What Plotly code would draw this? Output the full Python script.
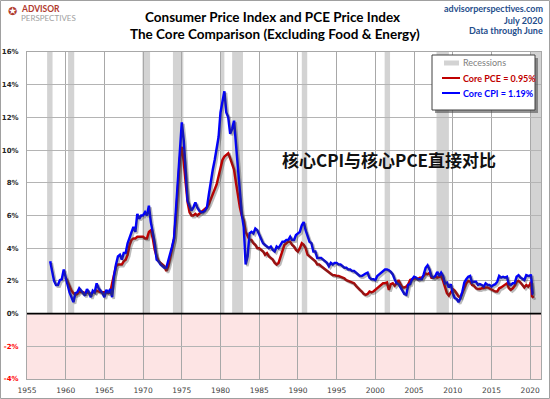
import plotly.graph_objects as go

# ---------------- data ----------------
# Core CPI YoY %, quarterly (Jan, Apr, Jul, Oct) from 1958 through 2019
cpi_start = 1958
cpi_q = [
    3.2, 2.5, 2.0, 1.75,   # 1958
    1.75, 2.05, 2.1, 2.7,  # 1959
    2.3, 1.75, 1.3, 1.0,   # 1960
    0.7, 1.25, 1.3, 1.55,  # 1961
    1.4, 1.3, 1.1, 1.5,    # 1962
    1.3, 1.0, 1.4, 1.3,    # 1963
    1.85, 1.55, 1.4, 1.25, # 1964
    1.0, 1.45, 1.25, 1.5,  # 1965
    1.0, 2.3, 3.0, 3.5,    # 1966
    3.6, 3.3, 3.7, 3.7,    # 1967
    4.3, 4.6, 5.0, 5.3,    # 1968
    5.0, 6.1, 5.8, 6.0,    # 1969
    6.0, 6.2, 6.0, 6.6,    # 1970
    5.6, 4.9, 4.3, 3.3,    # 1971
    3.2, 3.0, 2.9, 2.8,    # 1972
    2.8, 3.2, 3.7, 4.1,    # 1973
    4.6, 6.5, 8.5, 10.3,   # 1974
    11.7, 10.6, 8.5, 6.9,  # 1975
    6.6, 6.3, 6.5, 6.8,    # 1976
    6.5, 6.3, 6.2, 6.2,    # 1977
    6.3, 6.5, 7.3, 8.2,    # 1978
    8.8, 9.4, 10.1, 10.8,  # 1979
    12.3, 13.1, 13.6, 12.3,# 1980
    12.0, 11.0, 11.3, 11.8,# 1981
    10.5, 9.0, 7.5, 6.1,   # 1982
    5.3, 3.0, 3.5, 4.9,    # 1983
    5.0, 4.9, 5.2, 5.1,    # 1984
    4.8, 4.5, 4.3, 4.2,    # 1985
    4.1, 4.0, 4.1, 3.9,    # 1986
    3.8, 4.1, 4.0, 4.2,    # 1987
    4.4, 4.4, 4.5, 4.5,    # 1988
    4.7, 4.5, 4.5, 4.8,    # 1989
    4.9, 5.0, 5.4, 5.6,    # 1990
    5.1, 4.7, 4.4, 4.3,    # 1991
    3.8, 3.8, 3.4, 3.4,    # 1992
    3.4, 3.3, 3.2, 3.1,    # 1993
    2.9, 3.1, 3.0, 3.1,    # 1994
    3.1, 3.0, 3.0, 2.9,    # 1995
    2.8, 2.8, 2.7, 2.7,    # 1996
    2.6, 2.6, 2.5, 2.4,    # 1997
    2.3, 2.3, 2.4, 2.45,   # 1998
    2.5, 2.2, 2.1, 2.1,    # 1999
    2.05, 2.3, 2.4, 2.5,   # 2000
    2.6, 2.7, 2.7, 2.65,   # 2001
    2.55, 2.4, 2.1, 1.85,  # 2002
    1.8, 1.55, 1.4, 1.2,   # 2003
    1.15, 1.75, 1.8, 2.1,  # 2004
    2.25, 2.2, 2.1, 2.1,   # 2005
    2.1, 2.4, 2.8, 2.95,   # 2006
    2.7, 2.3, 2.2, 2.3,    # 2007
    2.55, 2.3, 2.5, 2.3,   # 2008
    1.85, 1.9, 1.6, 1.8,   # 2009
    1.25, 0.95, 0.9, 0.7,  # 2010
    0.95, 1.35, 1.9, 2.1,  # 2011
    2.25, 2.3, 1.9, 1.95,  # 2012
    1.95, 1.75, 1.8, 1.75, # 2013
    1.65, 1.85, 1.75, 1.75,# 2014
    1.65, 1.75, 1.8, 1.95, # 2015
    2.3, 2.2, 2.25, 2.2,   # 2016
    2.25, 1.8, 1.75, 1.85, # 2017
    1.85, 2.25, 2.35, 2.2, # 2018
    2.15, 2.05, 2.35, 2.3, # 2019
]
# Core CPI YoY %, monthly Jan-Jun 2020
cpi_2020 = [2.3, 2.4, 2.1, 1.4, 1.2, 1.19]

# Core PCE YoY %, quarterly from 1960 through 2019
pce_start = 1960
pce_q = [
    2.2, 1.9, 1.6, 1.4,    # 1960
    1.25, 1.15, 1.2, 1.35, # 1961
    1.3, 1.3, 1.25, 1.3,   # 1962
    1.25, 1.2, 1.3, 1.3,   # 1963
    1.4, 1.35, 1.3, 1.3,   # 1964
    1.3, 1.3, 1.25, 1.3,   # 1965
    1.85, 2.4, 2.9, 3.0,   # 1966
    3.0, 3.0, 3.2, 3.3,    # 1967
    3.6, 4.2, 4.5, 4.6,    # 1968
    4.6, 4.7, 4.7, 4.7,    # 1969
    4.7, 4.6, 4.6, 5.0,    # 1970
    5.1, 4.6, 3.9, 3.5,    # 1971
    3.2, 3.1, 3.0, 2.9,    # 1972
    2.6, 2.9, 3.4, 3.9,    # 1973
    4.6, 6.0, 8.0, 9.5,    # 1974
    10.2, 9.3, 8.0, 6.8,   # 1975
    6.2, 6.0, 6.0, 6.1,    # 1976
    6.0, 6.1, 6.2, 6.3,    # 1977
    6.4, 6.5, 6.7, 7.0,    # 1978
    7.2, 7.5, 7.9, 8.4,    # 1979
    9.0, 9.4, 9.6, 9.7,    # 1980
    9.8, 9.5, 9.2, 8.8,    # 1981
    8.0, 7.2, 6.5, 6.0,    # 1982
    5.7, 5.0, 4.7, 4.5,    # 1983
    4.5, 4.3, 4.2, 4.0,    # 1984
    4.0, 3.9, 3.8, 3.6,    # 1985
    3.7, 3.5, 3.4, 3.3,    # 1986
    3.1, 3.0, 3.1, 3.5,    # 1987
    3.8, 4.2, 4.3, 4.4,    # 1988
    4.4, 4.2, 4.1, 3.9,    # 1989
    3.8, 4.0, 4.3, 4.2,    # 1990
    4.0, 3.6, 3.5, 3.4,    # 1991
    3.3, 3.2, 3.0, 3.0,    # 1992
    2.9, 2.8, 2.7, 2.6,    # 1993
    2.5, 2.4, 2.35, 2.35,  # 1994
    2.3, 2.3, 2.25, 2.2,   # 1995
    2.15, 2.05, 2.0, 1.95, # 1996
    1.9, 1.85, 1.7, 1.55,  # 1997
    1.45, 1.35, 1.2, 1.15, # 1998
    1.2, 1.35, 1.3, 1.35,  # 1999
    1.45, 1.6, 1.65, 1.75, # 2000
    1.85, 1.85, 1.9, 1.45, # 2001
    1.8, 1.85, 1.7, 1.85,  # 2002
    2.05, 1.8, 1.6, 1.6,   # 2003
    1.65, 1.8, 2.05, 2.1,  # 2004
    2.15, 2.15, 2.1, 2.2,  # 2005
    2.2, 2.3, 2.45, 2.4,   # 2006
    2.5, 2.2, 2.2, 2.25,   # 2007
    2.2, 2.25, 2.3, 2.0,   # 2008
    1.6, 1.25, 1.1, 1.35,  # 2009
    1.5, 1.4, 1.2, 1.05,   # 2010
    1.0, 1.3, 1.6, 1.85,   # 2011
    2.0, 1.95, 1.75, 1.7,  # 2012
    1.55, 1.5, 1.5, 1.55,  # 2013
    1.55, 1.6, 1.6, 1.55,  # 2014
    1.45, 1.4, 1.35, 1.35, # 2015
    1.55, 1.6, 1.7, 1.8,   # 2016
    1.85, 1.55, 1.45, 1.55,# 2017
    1.7, 1.95, 2.0, 1.9,   # 2018
    1.75, 1.6, 1.75, 1.65, # 2019
]
pce_2020 = [1.8, 1.95, 1.7, 1.0, 1.05, 0.95]

# NBER recessions (decimal years)
rec_start = [1957.6, 1960.3, 1969.9, 1973.85, 1980.0, 1981.5, 1990.5, 2001.2, 2007.9, 2020.1]
rec_end   = [1958.3, 1961.1, 1970.9, 1975.2, 1980.5, 1982.9, 1991.2, 2001.9, 2009.5, 2021.4]

y_ticks = [-4, -2, 0, 2, 4, 6, 8, 10, 12, 14, 16]
x_ticks = list(range(1955, 2021, 5))

legend_labels = ["Recessions", "Core PCE = 0.95%", "Core CPI = 1.19%"]

# ---------------- build x positions ----------------
def build_x(start, nq):
    xs = [start + i / 4 for i in range(nq)]
    xs += [2020 + m / 12 for m in range(6)]
    return xs

cpi_x = build_x(cpi_start, len(cpi_q))
cpi_y = cpi_q + cpi_2020
pce_x = build_x(pce_start, len(pce_q))
pce_y = pce_q + pce_2020

X_RANGE = [1955, 2021.4]
Y_RANGE = [-4, 16]
L, R, T, B = 27, 9, 52, 20
W, H = 550, 399
PLOT_W, PLOT_H = W - L - R, H - T - B
dx = 1.6 * (X_RANGE[1] - X_RANGE[0]) / PLOT_W
dy = 1.6 * (Y_RANGE[1] - Y_RANGE[0]) / PLOT_H

def px_x(px):
    return (px - L) / PLOT_W

def px_y(py):
    return (H - B - py) / PLOT_H

PCE_COLOR = "#c00000"
CPI_COLOR = "#0000ff"

fig = go.Figure()

# shadows (same data drawn on slightly offset overlaid axes)
for xs, ys in ((pce_x, pce_y), (cpi_x, cpi_y)):
    fig.add_trace(go.Scatter(x=xs, y=ys, mode="lines", xaxis="x2", yaxis="y2",
                             line=dict(color="rgba(60,60,60,0.35)", width=2.6),
                             showlegend=False, hoverinfo="skip"))

fig.add_trace(go.Scatter(x=pce_x, y=pce_y, mode="lines", name=legend_labels[1],
                         line=dict(color=PCE_COLOR, width=2.5), showlegend=False))
fig.add_trace(go.Scatter(x=cpi_x, y=cpi_y, mode="lines", name=legend_labels[2],
                         line=dict(color=CPI_COLOR, width=2.5), showlegend=False))

shapes = []
shapes.append(dict(type="rect", xref="x", yref="y", x0=X_RANGE[0], x1=X_RANGE[1], y0=-4, y1=0,
                   fillcolor="#fde4e4", line=dict(width=0), layer="below"))
for s, e in zip(rec_start, rec_end):
    shapes.append(dict(type="rect", xref="x", yref="paper", x0=s, x1=e, y0=0, y1=1,
                       fillcolor="#d3d3d3", line=dict(width=0), layer="below"))
shapes.append(dict(type="line", xref="paper", yref="y", x0=0, x1=1, y0=0, y1=0,
                   line=dict(color="black", width=1.6), layer="above"))

# custom legend box with shadow
shapes.append(dict(type="rect", xref="paper", yref="paper", x0=px_x(435), x1=px_x(538),
                   y0=px_y(113), y1=px_y(58), fillcolor="rgba(80,80,80,0.6)", line=dict(width=0)))
shapes.append(dict(type="rect", xref="paper", yref="paper", x0=px_x(432), x1=px_x(535),
                   y0=px_y(110), y1=px_y(55), fillcolor="white", line=dict(color="#404040", width=1)))
shapes.append(dict(type="line", xref="paper", yref="paper", x0=px_x(444), x1=px_x(459),
                   y0=px_y(63), y1=px_y(63), line=dict(color="#d3d3d3", width=5)))
shapes.append(dict(type="line", xref="paper", yref="paper", x0=px_x(442), x1=px_x(460),
                   y0=px_y(78), y1=px_y(78), line=dict(color=PCE_COLOR, width=2)))
shapes.append(dict(type="line", xref="paper", yref="paper", x0=px_x(442), x1=px_x(460),
                   y0=px_y(93), y1=px_y(93), line=dict(color=CPI_COLOR, width=2)))

# outer figure border
shapes.append(dict(type="rect", xref="paper", yref="paper",
                   x0=px_x(0.5), x1=px_x(W - 0.5), y0=px_y(H - 0.5), y1=px_y(0.5),
                   fillcolor="rgba(0,0,0,0)", line=dict(color="#a0a0a0", width=1)))

y_text = [f'<span style="color:#ff0000">{v}%</span>' if v < 0 else f"{v}%" for v in y_ticks]

fig.update_layout(
    width=W, height=H,
    margin=dict(l=L, r=R, t=T, b=B, autoexpand=False),
    paper_bgcolor="white", plot_bgcolor="white",
    showlegend=False,
    xaxis=dict(range=X_RANGE, tickmode="array", tickvals=x_ticks, ticktext=[str(v) for v in x_ticks],
               showgrid=True, gridcolor="#a8a8a8", gridwidth=1, zeroline=False, automargin=False,
               showline=True, linecolor="#a8a8a8", mirror=True, ticks="",
               tickfont=dict(family="DejaVu Sans", size=7.5, color="#404040"), ticklabelstandoff=4),
    yaxis=dict(range=Y_RANGE, tickmode="array", tickvals=y_ticks, ticktext=y_text,
               showgrid=True, gridcolor="#b4b4b4", gridwidth=1, zeroline=False, automargin=False,
               showline=True, linecolor="#a8a8a8", mirror=True, ticks="",
               tickfont=dict(family="DejaVu Sans", size=7, color="#262626", weight="bold"), ticklabelstandoff=6),
    xaxis2=dict(range=[X_RANGE[0] - dx, X_RANGE[1] - dx], overlaying="x", visible=False, automargin=False),
    yaxis2=dict(range=[Y_RANGE[0] + dy, Y_RANGE[1] + dy], overlaying="y", visible=False, automargin=False),
    shapes=shapes,
)

# legend texts
leg_fonts = [dict(family="Lato, sans-serif", size=9, color="#808080"),
             dict(family="Lato, sans-serif", size=9, color=PCE_COLOR, weight="bold"),
             dict(family="Lato, sans-serif", size=9, color=CPI_COLOR, weight="bold")]
for lbl, f, py in zip(legend_labels, leg_fonts, (63, 78, 93)):
    fig.add_annotation(text=lbl, xref="paper", yref="paper", x=px_x(461), y=px_y(py),
                       showarrow=False, font=f, xanchor="left", yanchor="middle")

title_font = dict(family="Lato, sans-serif", size=13.5, color="black", weight="bold")
fig.add_annotation(text="Consumer Price Index and PCE Price Index", xref="paper", yref="paper",
                   x=px_x(272), y=px_y(17), showarrow=False, font=title_font, xanchor="center", yanchor="middle")
fig.add_annotation(text="The Core Comparison (Excluding Food &amp; Energy)", xref="paper", yref="paper",
                   x=px_x(275), y=px_y(34), showarrow=False, font=title_font, xanchor="center", yanchor="middle")
blue_font = dict(family="Lato, sans-serif", size=9, color="#1f4e8c", weight="bold")
for txt, py in (("advisorperspectives.com", 8), ("July 2020", 20), ("Data through June", 31)):
    fig.add_annotation(text=txt, xref="paper", yref="paper", x=px_x(545), y=px_y(py),
                       showarrow=False, font=blue_font, xanchor="right", yanchor="middle")
# logo
fig.add_annotation(text="ADVISOR", xref="paper", yref="paper", x=px_x(19), y=px_y(9),
                   showarrow=False, font=dict(family="Lato, sans-serif", size=8.5, color="#b03a2e", weight="bold"),
                   xanchor="left", yanchor="middle")
fig.add_annotation(text="PERSPECTIVES", xref="paper", yref="paper", x=px_x(19), y=px_y(18.5),
                   showarrow=False, font=dict(family="Lato, sans-serif", size=8, color="#a0a0a0"),
                   xanchor="left", yanchor="middle")
fig.add_annotation(text="✪", xref="paper", yref="paper", x=px_x(12), y=px_y(12),
                   showarrow=False, font=dict(family="DejaVu Sans", size=11, color="#b03a2e"),
                   xanchor="center", yanchor="middle")
# Chinese overlay text
fig.add_annotation(text="核心CPI与核心PCE直接对比", xref="paper", yref="paper", x=px_x(280), y=px_y(159),
                   showarrow=False, font=dict(family="Noto Sans CJK SC", size=17, color="#111111", weight="bold"),
                   xanchor="left", yanchor="middle")

fig.write_html("out.html", config={"displayModeBar": False},
               post_script="document.body.style.margin='0';document.body.style.padding='0';")
